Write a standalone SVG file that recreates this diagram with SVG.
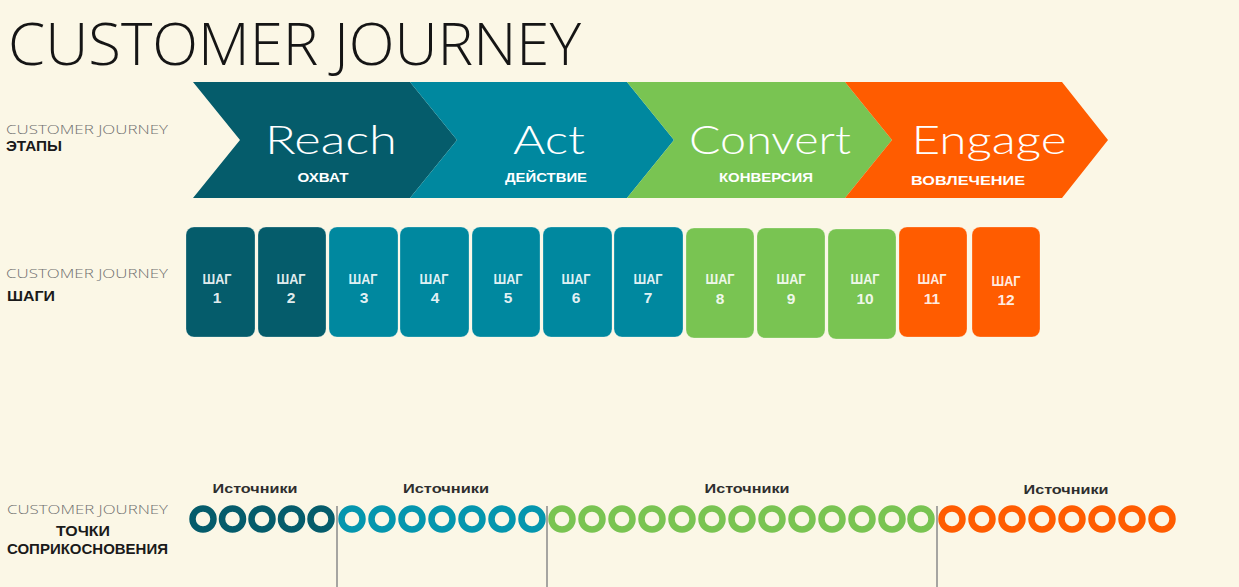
<svg xmlns="http://www.w3.org/2000/svg" width="1239" height="587" viewBox="0 0 1239 587">
<style>
.bg{fill:#FBF7E6}
.title{font-family:"Open Sans","Liberation Sans",sans-serif;font-weight:300;font-size:58px;fill:#151515}
.lblg{font-family:"Open Sans","Liberation Sans",sans-serif;font-weight:300;font-size:13px;fill:#6f6f6f}
.lblb{font-family:"Liberation Sans",Arial,sans-serif;font-weight:bold;font-size:14px;fill:#1a1a1a}
.big{font-family:Lato,"Open Sans",sans-serif;font-weight:300;font-size:40px;fill:#ffffff;text-anchor:middle}
.sub{font-family:"Liberation Sans",Arial,sans-serif;font-weight:bold;font-size:13px;fill:#ffffff;text-anchor:middle}
.step{font-family:"Liberation Sans",Arial,sans-serif;font-weight:bold;font-size:15.5px;fill:#ffffff;fill-opacity:0.9;text-anchor:middle}
.src{font-family:"Liberation Sans",Arial,sans-serif;font-weight:bold;font-size:13px;fill:#2e2e2e;text-anchor:middle}
.c1{fill:#055C6B}.c2{fill:#00889F}.c3{fill:#79C452}.c4{fill:#FF5C00}
.r1{stroke:#055C6B}.r2{stroke:#0496AE}.r3{stroke:#79C452}.r4{stroke:#FF5C00}
.ring{fill:none;stroke-width:6.5}
.box{stroke:#ffffff;stroke-opacity:0.25;stroke-width:1}
.div{stroke:#8a8a8a;stroke-width:1.5}
</style>
<rect class="bg" x="0" y="0" width="1239" height="587"/>

<text class="title" x="8" y="65" textLength="573" lengthAdjust="spacingAndGlyphs">CUSTOMER JOURNEY</text>

<g id="labels">
  <text class="lblg" x="6" y="134" textLength="162" lengthAdjust="spacingAndGlyphs">CUSTOMER JOURNEY</text>
  <text class="lblb" x="6" y="151" textLength="56" lengthAdjust="spacingAndGlyphs">ЭТАПЫ</text>
  <text class="lblg" x="6" y="278" textLength="162" lengthAdjust="spacingAndGlyphs">CUSTOMER JOURNEY</text>
  <text class="lblb" x="7" y="301" textLength="48" lengthAdjust="spacingAndGlyphs">ШАГИ</text>
  <text class="lblg" x="7" y="514" textLength="161" lengthAdjust="spacingAndGlyphs">CUSTOMER JOURNEY</text>
  <text class="lblb" x="56" y="536" textLength="54" lengthAdjust="spacingAndGlyphs">ТОЧКИ</text>
  <text class="lblb" x="7" y="554" textLength="161" lengthAdjust="spacingAndGlyphs">СОПРИКОСНОВЕНИЯ</text>
</g>

<g id="stage-reach">
  <polygon class="c1" points="193,82 410,82 457,140 410,198 193,198 240,140"/>
  <text class="big" x="331" y="154" textLength="132" lengthAdjust="spacingAndGlyphs">Reach</text>
  <text class="sub" x="323" y="182" textLength="51" lengthAdjust="spacingAndGlyphs">ОХВАТ</text>
</g>
<g id="stage-act">
  <polygon class="c2" points="410,82 627,82 674,140 627,198 410,198 457,140"/>
  <text class="big" x="549" y="154" textLength="72" lengthAdjust="spacingAndGlyphs">Act</text>
  <text class="sub" x="546" y="182" textLength="82" lengthAdjust="spacingAndGlyphs">ДЕЙСТВИЕ</text>
</g>
<g id="stage-convert">
  <polygon class="c3" points="627,82 845,82 892,140 845,198 627,198 674,140"/>
  <text class="big" x="770" y="154" textLength="162" lengthAdjust="spacingAndGlyphs">Convert</text>
  <text class="sub" x="766" y="182" textLength="94" lengthAdjust="spacingAndGlyphs">КОНВЕРСИЯ</text>
</g>
<g id="stage-engage">
  <polygon class="c4" points="845,82 1062,82 1108,140 1062,198 845,198 892,140"/>
  <text class="big" x="989" y="154" textLength="155" lengthAdjust="spacingAndGlyphs">Engage</text>
  <text class="sub" x="968" y="185" textLength="114" lengthAdjust="spacingAndGlyphs">ВОВЛЕЧЕНИЕ</text>
</g>

<g id="step-1"><rect class="box c1" x="186" y="227" width="69" height="110" rx="8"/><text class="step" x="217" y="284" textLength="29" lengthAdjust="spacingAndGlyphs">ШАГ</text><text class="step" x="217" y="303">1</text></g>
<g id="step-2"><rect class="box c1" x="258" y="227" width="68" height="110" rx="8"/><text class="step" x="291" y="284" textLength="29" lengthAdjust="spacingAndGlyphs">ШАГ</text><text class="step" x="291" y="303">2</text></g>
<g id="step-3"><rect class="box c2" x="329" y="227" width="69" height="110" rx="8"/><text class="step" x="363" y="284" textLength="29" lengthAdjust="spacingAndGlyphs">ШАГ</text><text class="step" x="364" y="303">3</text></g>
<g id="step-4"><rect class="box c2" x="400" y="227" width="69" height="110" rx="8"/><text class="step" x="434" y="284" textLength="29" lengthAdjust="spacingAndGlyphs">ШАГ</text><text class="step" x="435" y="303">4</text></g>
<g id="step-5"><rect class="box c2" x="472" y="227" width="68" height="110" rx="8"/><text class="step" x="508" y="284" textLength="29" lengthAdjust="spacingAndGlyphs">ШАГ</text><text class="step" x="508" y="303">5</text></g>
<g id="step-6"><rect class="box c2" x="543" y="227" width="69" height="110" rx="8"/><text class="step" x="576" y="284" textLength="29" lengthAdjust="spacingAndGlyphs">ШАГ</text><text class="step" x="576" y="303">6</text></g>
<g id="step-7"><rect class="box c2" x="614" y="227" width="69" height="110" rx="8"/><text class="step" x="648" y="284" textLength="29" lengthAdjust="spacingAndGlyphs">ШАГ</text><text class="step" x="648" y="303">7</text></g>
<g id="step-8"><rect class="box c3" x="686" y="228" width="68" height="110" rx="8"/><text class="step" x="720" y="284" textLength="29" lengthAdjust="spacingAndGlyphs">ШАГ</text><text class="step" x="720" y="304">8</text></g>
<g id="step-9"><rect class="box c3" x="757" y="228" width="68" height="110" rx="8"/><text class="step" x="791" y="284" textLength="29" lengthAdjust="spacingAndGlyphs">ШАГ</text><text class="step" x="791" y="304">9</text></g>
<g id="step-10"><rect class="box c3" x="828" y="229" width="68" height="110" rx="8"/><text class="step" x="865" y="284" textLength="29" lengthAdjust="spacingAndGlyphs">ШАГ</text><text class="step" x="865" y="304">10</text></g>
<g id="step-11"><rect class="box c4" x="899" y="227" width="68" height="110" rx="8"/><text class="step" x="932" y="284" textLength="29" lengthAdjust="spacingAndGlyphs">ШАГ</text><text class="step" x="932" y="304">11</text></g>
<g id="step-12"><rect class="box c4" x="972" y="227" width="68" height="110" rx="8"/><text class="step" x="1006" y="286" textLength="29" lengthAdjust="spacingAndGlyphs">ШАГ</text><text class="step" x="1006" y="305">12</text></g>

<g id="connectors">
  <line class="div" x1="337" y1="506" x2="337" y2="587"/>
  <line class="div" x1="547" y1="506" x2="547" y2="587"/>
  <line class="div" x1="937" y1="506" x2="937" y2="587"/>
</g>

<g id="touchpoints-reach">
  <text class="src" x="255" y="493" textLength="85" lengthAdjust="spacingAndGlyphs">Источники</text>
  <g class="ring r1">
    <circle cx="203" cy="519" r="10.5"/><circle cx="232.5" cy="519" r="10.5"/><circle cx="262" cy="519" r="10.5"/><circle cx="291.5" cy="519" r="10.5"/><circle cx="321" cy="519" r="10.5"/>
  </g>
</g>
<g id="touchpoints-act">
  <text class="src" x="446" y="493" textLength="86" lengthAdjust="spacingAndGlyphs">Источники</text>
  <g class="ring r2">
    <circle cx="352" cy="519" r="10.5"/><circle cx="382" cy="519" r="10.5"/><circle cx="412" cy="519" r="10.5"/><circle cx="442" cy="519" r="10.5"/><circle cx="472" cy="519" r="10.5"/><circle cx="502" cy="519" r="10.5"/><circle cx="532" cy="519" r="10.5"/>
  </g>
</g>
<g id="touchpoints-convert">
  <text class="src" x="747" y="493" textLength="85" lengthAdjust="spacingAndGlyphs">Источники</text>
  <g class="ring r3">
    <circle cx="562" cy="519" r="10.5"/><circle cx="592" cy="519" r="10.5"/><circle cx="622" cy="519" r="10.5"/><circle cx="652" cy="519" r="10.5"/><circle cx="682" cy="519" r="10.5"/><circle cx="712" cy="519" r="10.5"/><circle cx="742" cy="519" r="10.5"/><circle cx="772" cy="519" r="10.5"/><circle cx="802" cy="519" r="10.5"/><circle cx="832" cy="519" r="10.5"/><circle cx="862" cy="519" r="10.5"/><circle cx="892" cy="519" r="10.5"/><circle cx="921" cy="519" r="10.5"/>
  </g>
</g>
<g id="touchpoints-engage">
  <text class="src" x="1066" y="494" textLength="85" lengthAdjust="spacingAndGlyphs">Источники</text>
  <g class="ring r4">
    <circle cx="952" cy="519" r="10.5"/><circle cx="982" cy="519" r="10.5"/><circle cx="1012" cy="519" r="10.5"/><circle cx="1042" cy="519" r="10.5"/><circle cx="1072" cy="519" r="10.5"/><circle cx="1102" cy="519" r="10.5"/><circle cx="1132" cy="519" r="10.5"/><circle cx="1162" cy="519" r="10.5"/>
  </g>
</g>
</svg>
